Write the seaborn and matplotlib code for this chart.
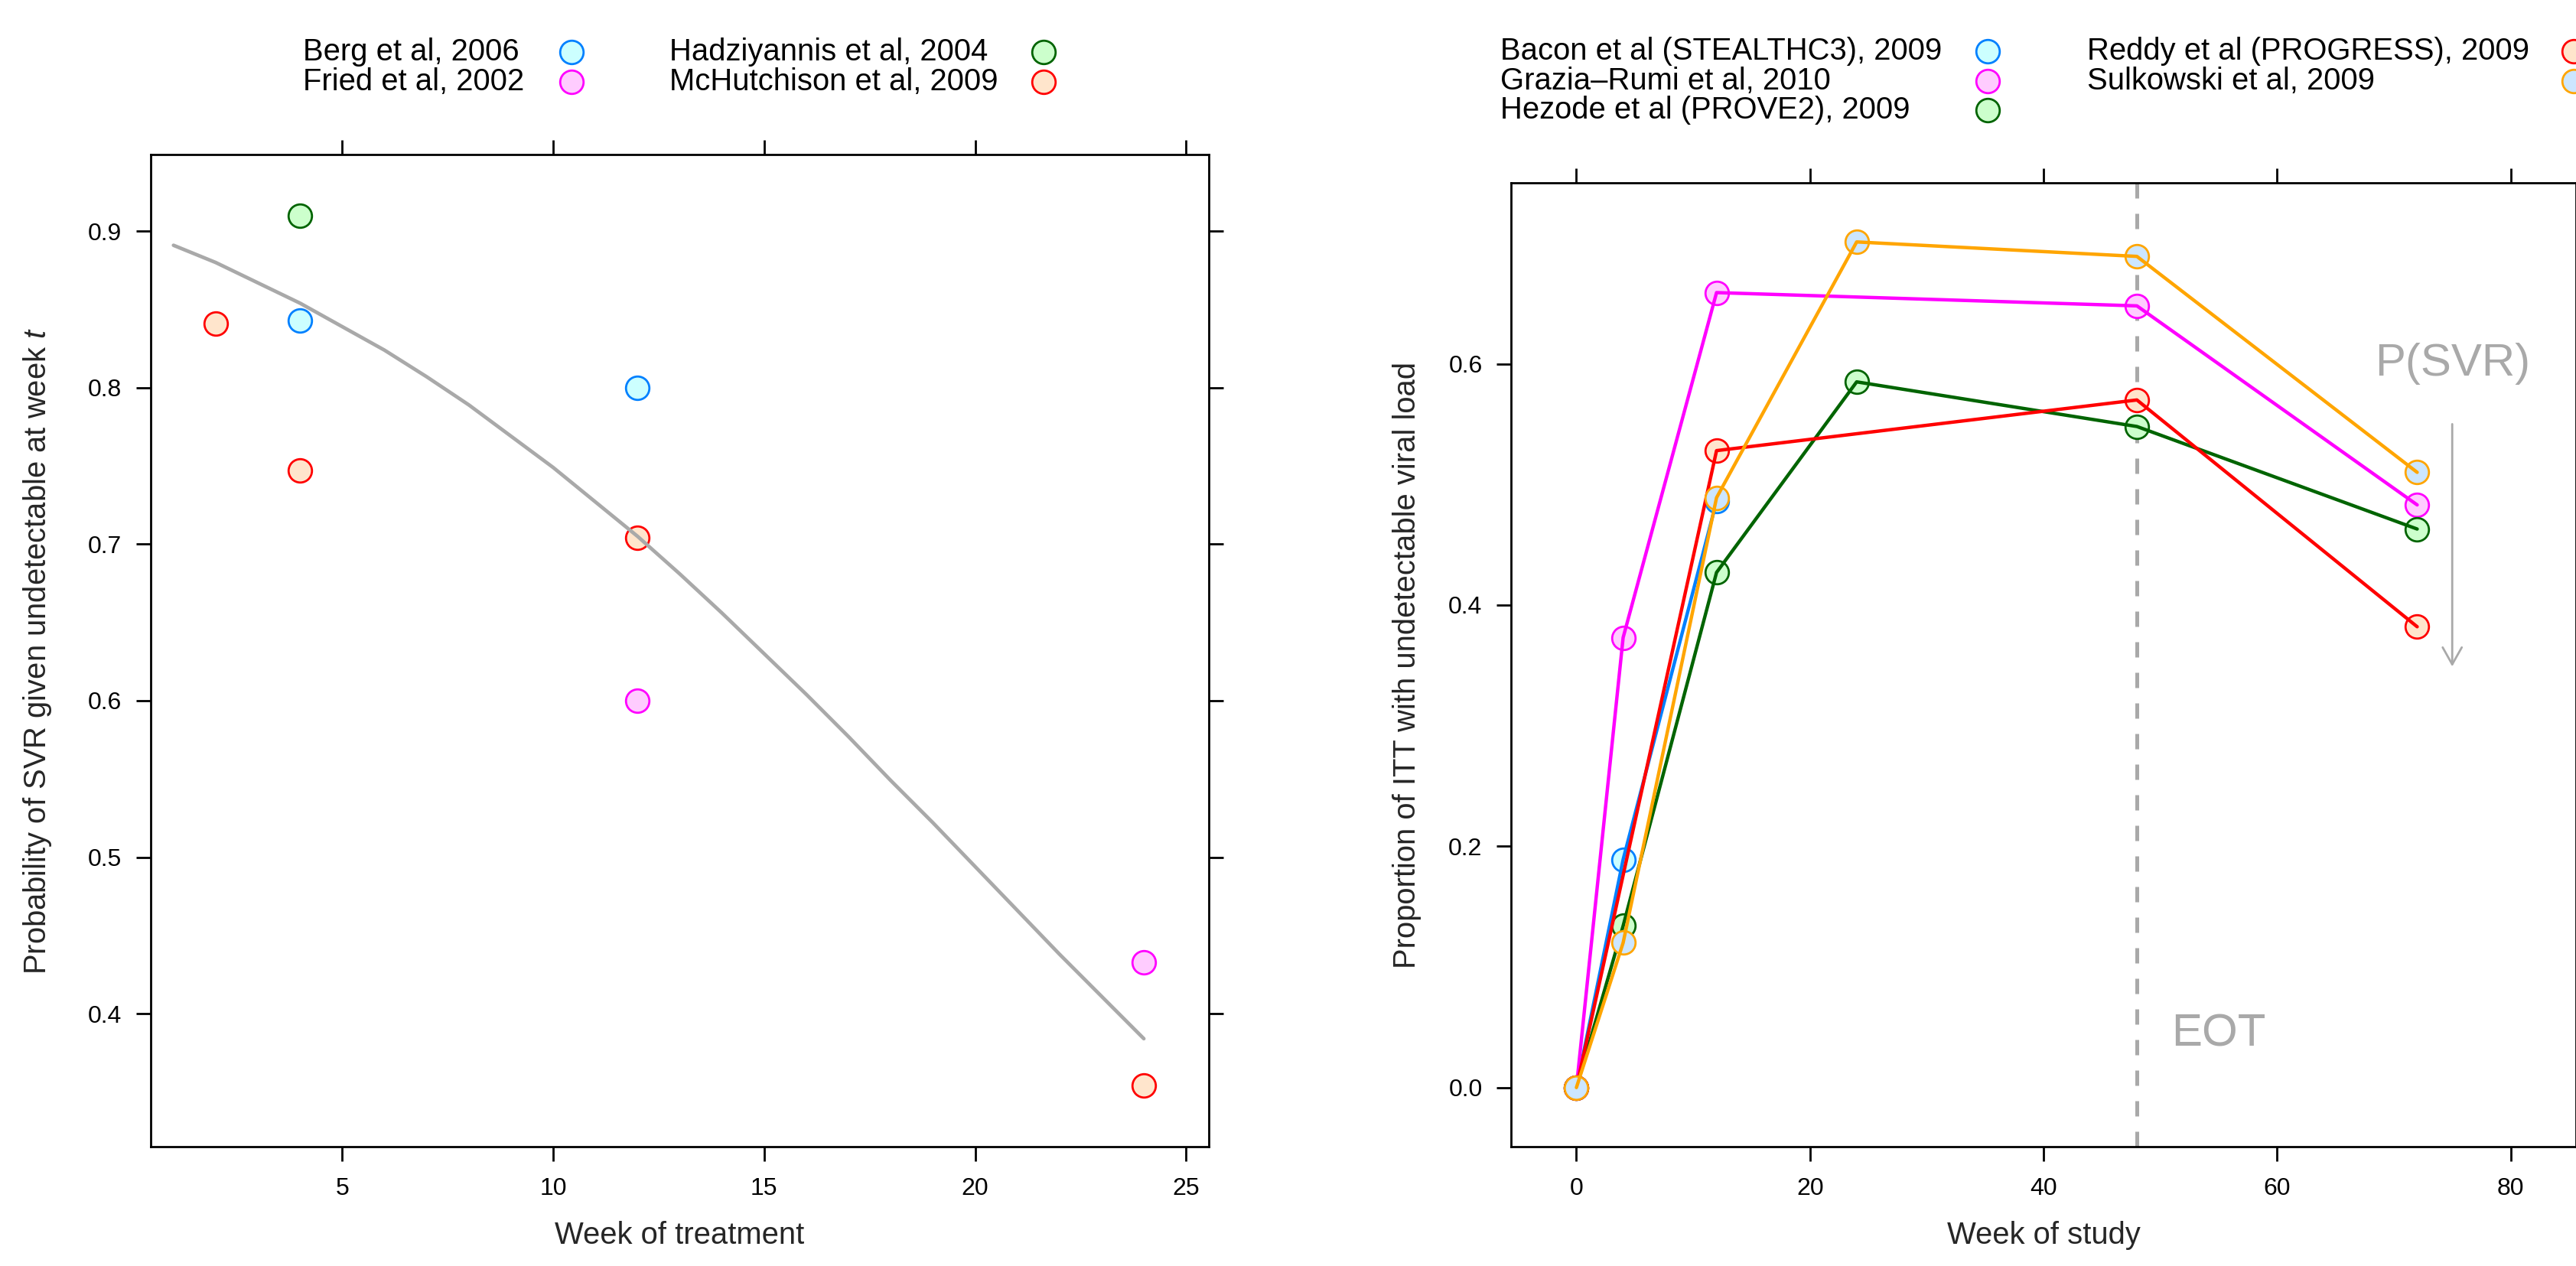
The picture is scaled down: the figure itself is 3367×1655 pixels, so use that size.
import numpy as np
import pandas as pd
import matplotlib
matplotlib.use("Agg")
import matplotlib.pyplot as plt
from matplotlib.lines import Line2D
import seaborn as sns

# ---------------- data ----------------
# Left panel: probability of SVR given undetectable at week t
left_studies = ["Berg et al, 2006", "Fried et al, 2002",
                "Hadziyannis et al, 2004", "McHutchison et al, 2009"]
berg_week = [4, 12]
berg_prob = [0.843, 0.800]
fried_week = [12, 24]
fried_prob = [0.600, 0.433]
hadz_week = [4]
hadz_prob = [0.910]
mchut_week = [2, 4, 12, 24]
mchut_prob = [0.841, 0.747, 0.704, 0.354]

curve_week = [1, 2, 3, 4, 5, 6, 7, 8, 9, 10, 11, 12,
              13, 14, 15, 16, 17, 18, 19, 20, 21, 22, 23, 24]
curve_prob = [0.891, 0.880, 0.867, 0.854, 0.839, 0.824, 0.807, 0.789,
              0.769, 0.749, 0.727, 0.705, 0.681, 0.656, 0.630, 0.604,
              0.577, 0.549, 0.522, 0.494, 0.466, 0.438, 0.411, 0.384]

# Right panel: proportion of ITT with undetectable viral load
right_studies = ["Bacon et al (STEALTHC3), 2009", "Grazia\u2013Rumi et al, 2010",
                 "Hezode et al (PROVE2), 2009", "Reddy et al (PROGRESS), 2009",
                 "Sulkowski et al, 2009"]
bacon_week = [0, 4, 12]
bacon_prop = [0.0, 0.189, 0.486]
grazia_week = [0, 4, 12, 48, 72]
grazia_prop = [0.0, 0.373, 0.659, 0.648, 0.483]
hezode_week = [0, 4, 12, 24, 48, 72]
hezode_prop = [0.0, 0.134, 0.427, 0.585, 0.548, 0.463]
reddy_week = [0, 12, 48, 72]
reddy_prop = [0.0, 0.528, 0.570, 0.382]
sulk_week = [0, 4, 12, 24, 48, 72]
sulk_prop = [0.0, 0.120, 0.489, 0.701, 0.689, 0.510]

left_xticks = [5, 10, 15, 20, 25]
left_yticks = [0.4, 0.5, 0.6, 0.7, 0.8, 0.9]
right_xticks = [0, 20, 40, 60, 80]
right_yticks = [0.0, 0.2, 0.4, 0.6]

# lattice-like colours
edge_cols = ["#0080ff", "#ff00ff", "#006400", "#ff0000", "#ffa500"]
fill_cols = ["#CCFFFF", "#FFCCFF", "#CCFFCC", "#FFE5CC", "#CCE6FF"]
GRAY = "#A9A9A9"

# ---------------- style ----------------
sns.set_style("ticks")
plt.rcParams["font.family"] = ["Liberation Sans", "DejaVu Sans"]
plt.rcParams["mathtext.fontset"] = "custom"
plt.rcParams["mathtext.rm"] = "Liberation Sans"
plt.rcParams["mathtext.it"] = "Liberation Sans:italic"

W, H = 3367, 1655
DPI = 200
fig = plt.figure(figsize=(W / DPI, H / DPI), dpi=DPI)

def px_rect(x0, y0, x1, y1):
    return [x0 / W, 1 - y1 / H, (x1 - x0) / W, (y1 - y0) / H]

axL = fig.add_axes(px_rect(197, 202, 1580, 1499))
axR = fig.add_axes(px_rect(1975, 239, 3367, 1499))

MS = 11.0
MEW = 1.0

def style_axes(ax):
    for sp in ax.spines.values():
        sp.set_visible(True)
        sp.set_linewidth(1.0)
        sp.set_color("black")
    ax.tick_params(direction="out", length=6.8, width=1.0, labelsize=11.5,
                   top=True, right=True, labeltop=False, labelright=False,
                   colors="black")
    ax.tick_params(axis="x", pad=7.5)
    ax.tick_params(axis="y", pad=6.7)
    ax.grid(False)

# ---------------- left panel ----------------
left_sets = [(berg_week, berg_prob), (fried_week, fried_prob),
             (hadz_week, hadz_prob), (mchut_week, mchut_prob)]
for i, (wk, pr) in enumerate(left_sets):
    sns.scatterplot(x=wk, y=pr, ax=axL, s=MS ** 2, color=fill_cols[i],
                    edgecolor=edge_cols[i], linewidth=MEW, zorder=3, legend=False)
sns.lineplot(x=curve_week, y=curve_prob, ax=axL, color=GRAY, lw=1.7,
             zorder=4, legend=False)
axL.set_xlim(0.46, 25.54)
axL.set_ylim(0.315, 0.949)
axL.set_xticks(left_xticks)
axL.set_yticks(left_yticks)
axL.set_xticklabels([str(v) for v in left_xticks])
axL.set_yticklabels([f"{v:.1f}" for v in left_yticks])
style_axes(axL)
axL.set_xlabel("Week of treatment", fontsize=14.4)
axL.set_ylabel("Probability of SVR given undetectable at week $\\mathit{t}$", fontsize=14.4)
axL.xaxis.set_label_coords(0.5, -(1596 - 1499) / (1499 - 202))
axL.yaxis.set_label_coords((70 - 197) / (1580 - 197), 0.5)

# ---------------- right panel ----------------
right_sets = [(bacon_week, bacon_prop), (grazia_week, grazia_prop),
              (hezode_week, hezode_prop), (reddy_week, reddy_prop),
              (sulk_week, sulk_prop)]
for i, (wk, pr) in enumerate(right_sets):
    z = 3 + 2 * i
    sns.scatterplot(x=wk, y=pr, ax=axR, s=MS ** 2, color=fill_cols[i],
                    edgecolor=edge_cols[i], linewidth=MEW, zorder=z, legend=False)
    sns.lineplot(x=wk, y=pr, ax=axR, color=edge_cols[i], lw=1.6,
                 zorder=z + 1, legend=False)

axR.axvline(48, color=GRAY, lw=1.8, ls=(0, (4, 4)), zorder=2)
axR.text(75, 0.60, "P(SVR)", color=GRAY, fontsize=21.6, ha="center", va="center")
axR.text(55, 0.044, "EOT", color=GRAY, fontsize=21.6, ha="center", va="center")
axR.annotate("", xy=(75, 0.349), xytext=(75, 0.550),
             arrowprops=dict(arrowstyle="->,head_length=0.4,head_width=0.225",
                             color=GRAY, lw=1.0, mutation_scale=20,
                             shrinkA=0, shrinkB=0))
axR.set_xlim(-5.6, 85.6)
axR.set_ylim(-0.049, 0.750)
axR.set_xticks(right_xticks)
axR.set_yticks(right_yticks)
axR.set_xticklabels([str(v) for v in right_xticks])
axR.set_yticklabels([f"{v:.1f}" for v in right_yticks])
style_axes(axR)
axR.set_xlabel("Week of study", fontsize=14.4)
axR.set_ylabel("Proportion of ITT with undetectable viral load", fontsize=14.4)
axR.xaxis.set_label_coords(0.5, -(1596 - 1499) / (1499 - 239))
axR.yaxis.set_label_coords((1858 - 1975) / (3367 - 1975), 0.5)

# ---------------- legends (text left, symbol right) ----------------
def draw_key(labels, text_x, mark_x, rows, per_col):
    for i, lab in enumerate(labels):
        c = i // per_col
        r = i % per_col
        y = rows[r]
        fig.text(text_x[c] / W, 1 - y / H, lab, fontsize=14.4, ha="left",
                 va="center", color="black")
        fig.add_artist(Line2D([mark_x[c] / W], [1 - y / H], transform=fig.transFigure,
                              marker="o", markersize=MS, markerfacecolor=fill_cols[i],
                              markeredgecolor=edge_cols[i], markeredgewidth=MEW,
                              linestyle="none"))

draw_key(left_studies, [396, 875], [747, 1364], [68, 107], 2)
draw_key(right_studies, [1961, 2728], [2598, 3364], [67, 106, 144], 3)

fig.savefig("out.png", dpi=DPI, facecolor="white")
